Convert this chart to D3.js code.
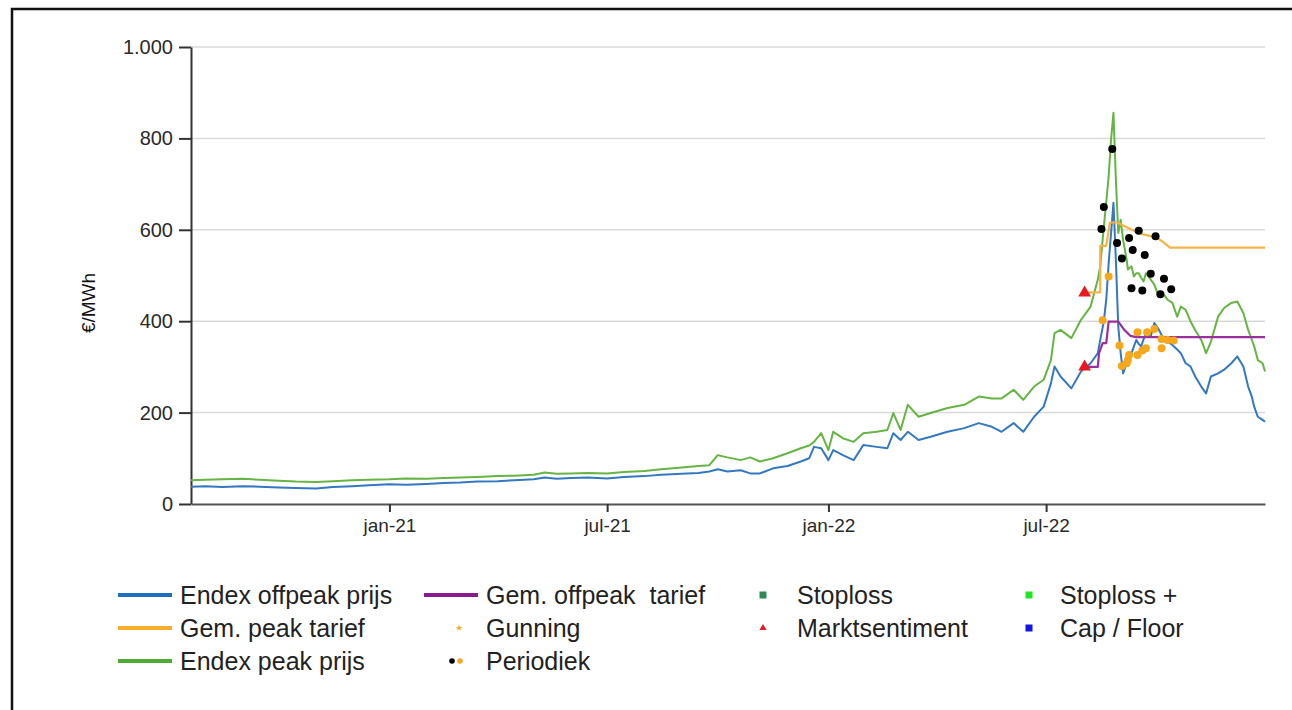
<!DOCTYPE html>
<html>
<head>
<meta charset="utf-8">
<script src="https://cdn.jsdelivr.net/npm/d3@7"></script>
<style>
    body { margin: 0; background: #fff; }
    svg { display: block; font-family: "Liberation Sans", Arial, sans-serif; }
</style>
</head>
<body>
<div id="chart-container"></div>
<script>
// Endex prices (daily-ish readings)
const dates = ["2020-07-20","2020-08-01","2020-08-15","2020-09-01","2020-09-15","2020-10-01","2020-10-15","2020-11-01","2020-11-15","2020-12-01",
    "2020-12-15","2021-01-01","2021-01-15","2021-02-01","2021-02-15","2021-03-01","2021-03-15","2021-04-01","2021-04-15","2021-05-01",
    "2021-05-10","2021-05-20","2021-06-01","2021-06-15","2021-07-01","2021-07-15","2021-08-01","2021-08-15","2021-09-01","2021-09-15",
    "2021-09-24","2021-10-01","2021-10-09","2021-10-20","2021-10-28","2021-11-05","2021-11-16","2021-11-28","2021-12-09","2021-12-16",
    "2021-12-20","2021-12-26","2022-01-01","2022-01-05","2022-01-13","2022-01-22","2022-01-30","2022-02-10","2022-02-19","2022-02-24",
    "2022-03-02","2022-03-08","2022-03-17","2022-03-27","2022-04-10","2022-04-24","2022-05-06","2022-05-17","2022-05-25","2022-06-04",
    "2022-06-12","2022-06-21","2022-06-29","2022-07-05","2022-07-08","2022-07-13","2022-07-22","2022-07-30","2022-08-07","2022-08-13",
    "2022-08-15","2022-08-18","2022-08-20","2022-08-22","2022-08-24","2022-08-26","2022-08-28","2022-08-30","2022-09-01","2022-09-03",
    "2022-09-06","2022-09-07","2022-09-10","2022-09-12","2022-09-14","2022-09-16","2022-09-18","2022-09-20","2022-09-22","2022-09-26",
    "2022-09-29","2022-10-02","2022-10-06","2022-10-10","2022-10-14","2022-10-18","2022-10-21","2022-10-25","2022-10-29","2022-11-02",
    "2022-11-07","2022-11-11","2022-11-15","2022-11-21","2022-11-26","2022-12-02","2022-12-07","2022-12-12","2022-12-16","2022-12-19",
    "2022-12-21","2022-12-24","2022-12-28","2022-12-30"];

const peakPrices = [52,53,54,55,53,51,49,48,50,52,
    53,54,56,55,57,58,59,61,62,64,
    69,66,67,68,67,70,72,76,80,83,
    85,107,102,96,102,93,100,111,122,128,
    136,155,118,158,144,136,155,158,162,199,
    162,217,191,199,210,217,235,231,231,250,
    228,257,272,315,374,381,363,403,432,491,
    520,607,660,717,797,856,710,593,622,578,
    534,513,520,498,505,505,495,487,505,491,
    480,458,461,447,440,410,432,425,400,380,
    359,330,355,410,429,440,443,418,381,360,
    345,315,308,290];

const offpeakPrices = [38,39,37,39,38,36,35,34,37,39,
    41,43,42,44,46,47,49,50,52,54,
    58,55,57,58,56,59,61,64,66,68,
    71,76,71,74,67,67,78,83,93,100,
    125,122,96,118,107,96,129,125,122,155,
    140,158,140,147,158,166,177,169,158,177,
    158,191,213,264,301,279,253,290,308,330,
    359,400,447,527,593,659,534,388,330,286,
    308,318,330,345,359,350,345,360,374,367,
    396,385,365,355,348,338,330,308,301,279,
    257,242,279,286,294,308,323,301,257,235,
    213,191,184,180];

// Average tariffs (step lines)
const peakTariffDates = ["2022-08-03","2022-08-15","2022-08-15","2022-08-20","2022-08-23","2022-08-29",
    "2022-09-12","2022-09-20","2022-10-01","2022-10-07","2022-10-12","2022-12-30"];
const peakTariffValues = [463,463,565,565,616,616,598,590,583,572,561,561];

const offpeakTariffDates = ["2022-08-03","2022-08-13","2022-08-14","2022-08-17","2022-08-20","2022-08-22",
    "2022-08-30","2022-09-04","2022-09-09","2022-09-14","2022-12-30"];
const offpeakTariffValues = [300,300,330,352,352,399,399,381,368,365,365];

// Marktsentiment purchases
const sentimentDates = ["2022-08-02","2022-08-02"];
const sentimentValues = [462, 300];

// Periodiek purchases (peak = black, offpeak = orange)
const periodicPeakDates = ["2022-08-25","2022-08-18","2022-08-16","2022-08-29","2022-09-08","2022-09-16","2022-09-30","2022-09-11",
    "2022-09-02","2022-09-21","2022-09-26","2022-10-07","2022-09-10","2022-09-19","2022-10-04","2022-10-13"];
const periodicPeakValues = [777,650,602,571,582,598,586,556,537,545,504,493,472,467,459,470];

const periodicOffpeakDates = ["2022-08-22","2022-08-17","2022-08-31","2022-09-02","2022-09-06","2022-09-07","2022-09-08","2022-09-15",
    "2022-09-19","2022-09-22","2022-09-15","2022-09-23","2022-09-29","2022-10-05","2022-10-05","2022-10-10","2022-10-15"];
const periodicOffpeakValues = [498,402,347,302,308,315,326,326,336,341,376,376,383,341,361,359,358];

// Axis ticks
const yTicks = [0, 200, 400, 600, 800, 1000];
const xTickDates = ["2021-01-01","2021-07-01","2022-01-01","2022-07-01"];
const xTickLabels = ["jan-21","jul-21","jan-22","jul-22"];
const xDomain = ["2020-07-20","2022-12-30"];

// Legend labels, column by column
const legendCol1 = ["Endex offpeak prijs", "Gem. peak tarief", "Endex peak prijs"];
const legendCol2 = ["Gem. offpeak  tarief", "Gunning", "Periodiek"];
const legendCol3 = ["Stoploss", "Marktsentiment"];
const legendCol4 = ["Stoploss +", "Cap / Floor"];


// Setting up the svg container
const width = 1292;
const height = 710;

const plot = { left: 191, right: 1265, top: 47, bottom: 504 };

const colors = {
    offpeak: "#3378c1",
    peak: "#66b444",
    peakTariff: "#f5b443",
    offpeakTariff: "#9a2f9e",
    sentiment: "#e8191e",
    periodic: "#f5a81c"
};

const parseDate = d3.timeParse("%Y-%m-%d");
const nlFormat = d3.formatLocale({ decimal: ",", thousands: ".", grouping: [3], currency: ["€", ""] }).format(",");

const svg = d3.select("#chart-container").append("svg")
    .attr("width", width)
    .attr("height", height);

// Frame round the picture
svg.append("rect")
    .attr("x", 12)
    .attr("y", 9)
    .attr("width", width + 20)
    .attr("height", height + 20)
    .attr("fill", "none")
    .attr("stroke", "#111")
    .attr("stroke-width", 2.5);

// Scales
const x = d3.scaleTime()
    .domain(xDomain.map(parseDate))
    .range([plot.left, plot.right]);

const y = d3.scaleLinear()
    .domain([0, 1000])
    .range([plot.bottom, plot.top]);

// Gridlines
svg.append("g")
    .selectAll("line")
    .data(yTicks.filter(d => d > 0))
    .enter().append("line")
    .attr("x1", plot.left)
    .attr("x2", plot.right)
    .attr("y1", d => y(d))
    .attr("y2", d => y(d))
    .attr("stroke", "#d9d9d9")
    .attr("stroke-width", 1.5);

// Y axis
const yAxis = svg.append("g")
    .attr("transform", `translate(${plot.left},0)`)
    .call(d3.axisLeft(y).tickValues(yTicks).tickFormat(nlFormat).tickSize(12).tickSizeOuter(0).tickPadding(6));
yAxis.select(".domain").attr("stroke", "#333").attr("stroke-width", 2);
yAxis.selectAll(".tick line").attr("stroke", "#333").attr("stroke-width", 2);
yAxis.selectAll("text").attr("font-size", 20).attr("fill", "#2a2a2a").attr("font-family", "Liberation Sans, Arial, sans-serif");

// X axis
const xAxis = svg.append("g")
    .attr("transform", `translate(0,${plot.bottom})`)
    .call(d3.axisBottom(x)
        .tickValues(xTickDates.map(parseDate))
        .tickFormat((d, i) => xTickLabels[i])
        .tickSize(8).tickSizeOuter(0).tickPadding(7));
xAxis.select(".domain").attr("stroke", "#555").attr("stroke-width", 2);
xAxis.selectAll(".tick line").attr("stroke", "#333").attr("stroke-width", 2);
xAxis.selectAll("text").attr("font-size", 19).attr("fill", "#2a2a2a").attr("font-family", "Liberation Sans, Arial, sans-serif");

// Y axis title
svg.append("text")
    .attr("transform", "translate(88,303) rotate(-90)")
    .attr("text-anchor", "middle")
    .attr("dominant-baseline", "central")
    .attr("font-size", 19)
    .attr("fill", "#111")
    .text("€/MWh");

// Line generators
const line = d3.line()
    .x(d => x(d[0]))
    .y(d => y(d[1]));

function toPoints(ds, vs) {
    return ds.map((d, i) => [parseDate(d), vs[i]]);
}

function drawLine(points, color, widthPx) {
    svg.append("path")
        .datum(points)
        .attr("fill", "none")
        .attr("stroke", color)
        .attr("stroke-width", widthPx)
        .attr("stroke-linejoin", "round")
        .attr("d", line);
}

drawLine(toPoints(dates, peakPrices), colors.peak, 2);
drawLine(toPoints(dates, offpeakPrices), colors.offpeak, 2);
drawLine(toPoints(peakTariffDates, peakTariffValues), colors.peakTariff, 2.2);
drawLine(toPoints(offpeakTariffDates, offpeakTariffValues), colors.offpeakTariff, 2.2);

// Marktsentiment triangles
svg.append("g")
    .selectAll("path")
    .data(toPoints(sentimentDates, sentimentValues))
    .enter().append("path")
    .attr("transform", d => `translate(${x(d[0])},${y(d[1])})`)
    .attr("d", d3.symbol(d3.symbolTriangle, 70))
    .attr("fill", colors.sentiment);

// Periodiek dots
svg.append("g")
    .selectAll("circle")
    .data(toPoints(periodicPeakDates, periodicPeakValues))
    .enter().append("circle")
    .attr("cx", d => x(d[0]))
    .attr("cy", d => y(d[1]))
    .attr("r", 4)
    .attr("fill", "#000");

svg.append("g")
    .selectAll("circle")
    .data(toPoints(periodicOffpeakDates, periodicOffpeakValues))
    .enter().append("circle")
    .attr("cx", d => x(d[0]))
    .attr("cy", d => y(d[1]))
    .attr("r", 4)
    .attr("fill", colors.periodic);


// Legend
const legendRows = [595, 628, 661];
const legendFont = 25;

function legendText(xPos, labels) {
    svg.append("g")
        .selectAll("text")
        .data(labels)
        .enter().append("text")
        .attr("x", xPos)
        .attr("y", (d, i) => legendRows[i])
        .attr("dominant-baseline", "central")
        .attr("font-size", legendFont)
        .attr("fill", "#222")
        .style("white-space", "pre")
        .text(d => d);
}

legendText(180, legendCol1);
legendText(486, legendCol2);
legendText(797, legendCol3);
legendText(1060, legendCol4);

// Line swatches
const swatches = [
    { x: 118, row: 0, color: "#1d6fc0" },
    { x: 118, row: 1, color: "#f5ae2a" },
    { x: 118, row: 2, color: "#4fac33" },
    { x: 424, row: 0, color: "#8a1a8e" }
];
svg.append("g")
    .selectAll("line")
    .data(swatches)
    .enter().append("line")
    .attr("x1", d => d.x)
    .attr("x2", d => d.x + 54)
    .attr("y1", d => legendRows[d.row])
    .attr("y2", d => legendRows[d.row])
    .attr("stroke", d => d.color)
    .attr("stroke-width", 4);

// Gunning marker
svg.append("path")
    .attr("transform", `translate(459,${legendRows[1]})`)
    .attr("d", d3.symbol(d3.symbolStar, 14))
    .attr("fill", "#f5a81c");

// Periodiek marker
svg.append("circle").attr("cx", 452).attr("cy", legendRows[2]).attr("r", 2.8).attr("fill", "#000");
svg.append("circle").attr("cx", 460).attr("cy", legendRows[2]).attr("r", 2.8).attr("fill", "#f5a81c");

// Square markers
const squares = [
    { x: 763, row: 0, color: "#2f8a5a" },
    { x: 1029, row: 0, color: "#1de81d" },
    { x: 1029, row: 1, color: "#1414e6" }
];
svg.append("g")
    .selectAll("rect")
    .data(squares)
    .enter().append("rect")
    .attr("x", d => d.x - 3.5)
    .attr("y", d => legendRows[d.row] - 3.5)
    .attr("width", 7)
    .attr("height", 7)
    .attr("fill", d => d.color);

// Marktsentiment marker
svg.append("path")
    .attr("transform", `translate(763,${legendRows[1]})`)
    .attr("d", d3.symbol(d3.symbolTriangle, 22))
    .attr("fill", colors.sentiment);
</script>
</body>
</html>
